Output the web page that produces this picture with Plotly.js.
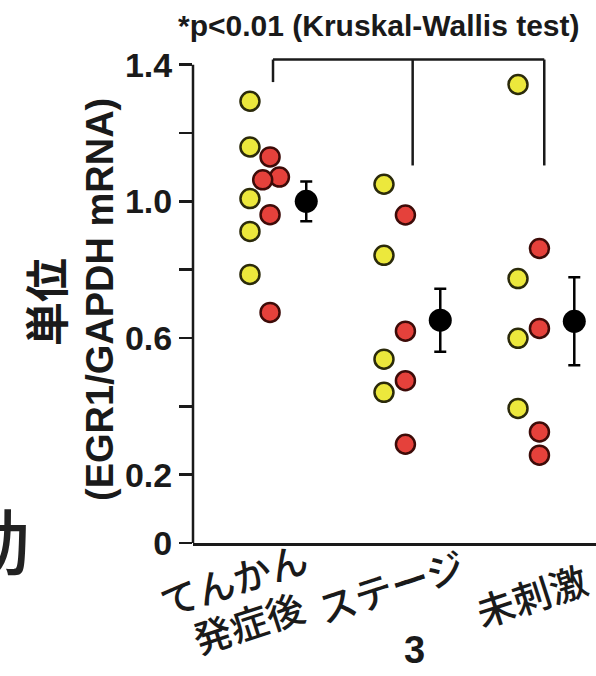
<!DOCTYPE html>
<html><head><meta charset="utf-8">
<script src="https://cdn.plot.ly/plotly-3.0.1.min.js"></script>
<style>html,body{margin:0;padding:0;background:#fff;overflow:hidden}#chart{width:596px;height:676px}</style>
</head><body><div id="chart"></div>
<script>
// ---- data ----
const categories = ['てんかん<br>発症後', 'ステージ<br>3', '未刺激'];
const yellowValues = [
  [1.293, 1.159, 1.008, 0.912, 0.786],
  [1.050, 0.842, 0.538, 0.441],
  [1.342, 0.774, 0.599, 0.394]
];
const redValues = [
  [1.130, 1.071, 1.063, 0.961, 0.675],
  [0.960, 0.620, 0.475, 0.289],
  [0.862, 0.628, 0.325, 0.257]
];
const redJitter = [
  [0.15, 0.22, 0.095, 0.15, 0.15],
  [0.16, 0.16, 0.16, 0.16],
  [0.16, 0.16, 0.16, 0.16]
];
const meanValues = [1.0, 0.652, 0.649];
const semValues = [0.058, 0.0925, 0.129];
const yTickVals = [0, 0.2, 0.4, 0.6, 0.8, 1.0, 1.2, 1.4];
const yTickText = ['0', '0.2', '', '0.6', '', '1.0', '', '1.4'];
const pValueText = '*p&lt;0.01 (Kruskal-Wallis test)';
const yTitleLines = ['単位', '(EGR1/GAPDH mRNA)'];
const sideGlyph = '動';

// ---- layout helpers ----
const W = 596, H = 676, ML = 193, MR = 0, MT = 51, MB = 133;
const PW = W - ML - MR, PH = H - MT - MB;
const px = x => (x - ML) / PW;            // pixel x -> paper
const py = y => (H - MB - y) / PH;        // pixel y -> paper
const ink = '#1a1a1a';
const latin = '"Liberation Sans", Arial, sans-serif';
const cjk = '"Noto Sans CJK JP", "Noto Sans CJK SC", sans-serif';

const catIdx = categories.map((c, i) => i);
const meanOffset = 0.42;

const yx = [], yy = [], rx = [], ry = [];
catIdx.forEach(i => {
  yellowValues[i].forEach(v => { yx.push(i); yy.push(v); });
  redValues[i].forEach((v, k) => { rx.push(i + redJitter[i][k]); ry.push(v); });
});

const traces = [
  { type: 'scatter', mode: 'markers', x: yx, y: yy, name: 'yellow', cliponaxis: false,
    marker: { size: 19, color: '#ECE83C', line: { color: '#2b2a0a', width: 2.5 } }, hoverinfo: 'y' },
  { type: 'scatter', mode: 'markers', x: rx, y: ry, name: 'red', cliponaxis: false,
    marker: { size: 19, color: '#E5413B', line: { color: '#3d0b08', width: 2.5 } }, hoverinfo: 'y' },
  { type: 'scatter', mode: 'markers', x: catIdx.map(i => i + meanOffset), y: meanValues, name: 'mean', cliponaxis: false,
    marker: { size: 23, color: '#000' },
    error_y: { type: 'data', array: semValues, visible: true, color: '#000', thickness: 2.5, width: 6 } }
];

const annotations = [];
// p-value title
annotations.push({ xref: 'paper', yref: 'paper', x: px(379), y: py(25), xanchor: 'center', yanchor: 'middle',
  text: pValueText, showarrow: false, font: { family: latin, size: 30, weight: 'bold', color: ink } });
// y title (two lines)
annotations.push({ xref: 'paper', yref: 'paper', x: px(45), y: py(302), xanchor: 'center', yanchor: 'middle',
  text: yTitleLines[0], textangle: -90, showarrow: false, font: { family: cjk, size: 44, weight: 'bold', color: ink } });
annotations.push({ xref: 'paper', yref: 'paper', x: px(100), y: py(300), xanchor: 'center', yanchor: 'middle',
  text: yTitleLines[1], textangle: -90, showarrow: false, font: { family: latin, size: 38, weight: 'bold', color: ink } });
// category labels, one annotation per line
const labelPos = [
  [{ dx: -0.127, y: 578 }, { dx: -0.015, y: 621 }],
  [{ dx: 0.045, y: 585 }, { dx: 0.231, y: 650 }],
  [{ dx: 0.097, y: 594 }]
];
categories.forEach((c, i) => {
  c.split('<br>').forEach((line, k) => {
    const ascii = /^[\x00-\x7F]+$/.test(line);
    annotations.push({ xref: 'x', yref: 'paper', x: i + labelPos[i][k].dx, y: py(labelPos[i][k].y),
      xanchor: 'center', yanchor: 'middle', text: line, textangle: ascii ? 0 : -18, showarrow: false,
      font: ascii ? { family: latin, size: 38, weight: 'bold', color: ink } : { family: cjk, size: 38, weight: 500, color: ink } });
  });
});
// cropped glyph from neighbouring panel
annotations.push({ xref: 'paper', yref: 'paper', x: px(-6), y: py(537), xanchor: 'center', yanchor: 'middle',
  text: sideGlyph, showarrow: false, font: { family: cjk, size: 72, weight: 500, color: '#222' } });

const lineStyle = { color: ink, width: 2.5 };
const bracketTop = 1.415;
const shapes = [
  { type: 'line', xref: 'paper', yref: 'y', x0: 0, x1: 0, y0: 0, y1: 1.4, line: { color: ink, width: 2.5 } },
  { type: 'line', xref: 'x', yref: 'y', x0: 0.172, x1: 2.196, y0: bracketTop, y1: bracketTop, line: lineStyle },
  { type: 'line', xref: 'x', yref: 'y', x0: 0.172, x1: 0.172, y0: bracketTop, y1: 1.349, line: lineStyle },
  { type: 'line', xref: 'x', yref: 'y', x0: 1.214, x1: 1.214, y0: bracketTop, y1: 1.105, line: lineStyle },
  { type: 'line', xref: 'x', yref: 'y', x0: 2.196, x1: 2.196, y0: bracketTop, y1: 1.105, line: lineStyle }
];

const layout = {
  width: W, height: H, margin: { l: ML, r: MR, t: MT, b: MB, pad: 0 },
  paper_bgcolor: '#fff', plot_bgcolor: '#fff', showlegend: false,
  xaxis: { range: [-0.425, 2.582], showline: true, linewidth: 3, linecolor: ink, showgrid: false,
    zeroline: false, showticklabels: false, ticks: '', fixedrange: true },
  yaxis: { range: [0, 1.44], showline: false, showgrid: false, zeroline: false, ticks: 'outside',
    ticklen: 13, tickwidth: 2.5, tickcolor: ink, tickvals: yTickVals, ticktext: yTickText,
    tickfont: { family: latin, size: 34, weight: 'bold', color: ink }, fixedrange: true },
  annotations: annotations, shapes: shapes
};

Plotly.newPlot('chart', traces, layout, { displayModeBar: false, staticPlot: true });
</script></body></html>
